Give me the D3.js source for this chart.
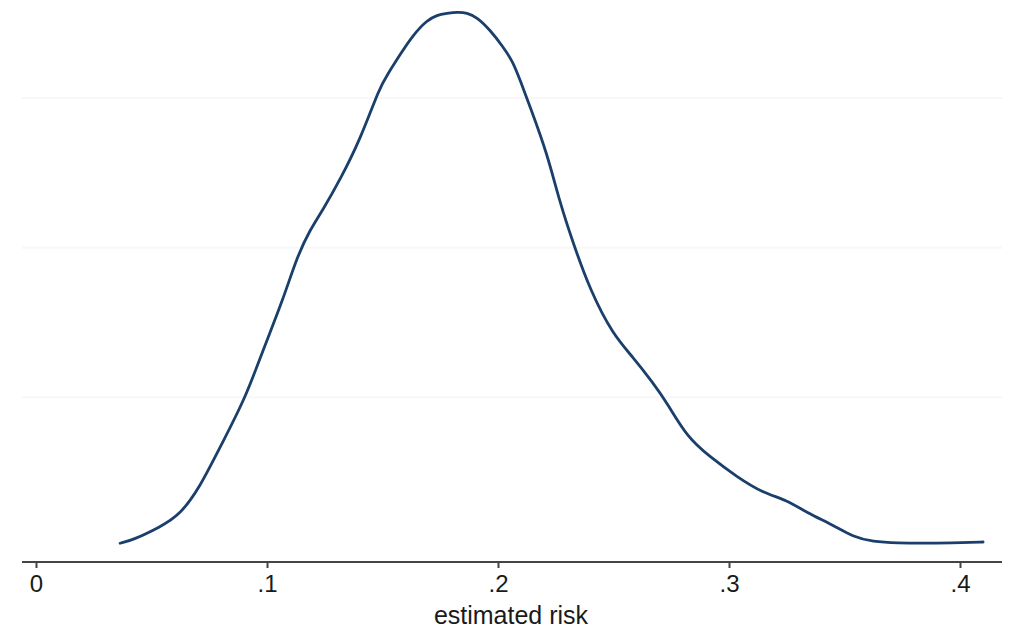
<!DOCTYPE html>
<html>
<head>
<meta charset="utf-8">
<script src="https://cdn.jsdelivr.net/npm/d3@7/dist/d3.min.js"></script>
<style>
  html, body { margin: 0; padding: 0; background: #ffffff; }
  svg { display: block; }
</style>
</head>
<body>
<svg id="chart" width="1013" height="631"></svg>
<script>
// Kernel density estimate of estimated risk
const riskValues = [0.0364, 0.0420, 0.0537, 0.0623, 0.0710, 0.0797, 0.0905, 0.0983, 0.1069, 0.1130,
  0.1186, 0.1242, 0.1316, 0.1403, 0.1489, 0.1519, 0.1576, 0.1632, 0.1693, 0.1736,
  0.1779, 0.1823, 0.1866, 0.1909, 0.1965, 0.2022, 0.2065, 0.2095, 0.2139, 0.2212,
  0.2268, 0.2325, 0.2398, 0.2498, 0.2584, 0.2671, 0.2732, 0.2818, 0.2918, 0.3035,
  0.3147, 0.3251, 0.3338, 0.3450, 0.3537, 0.3623, 0.3727, 0.3870, 0.4013, 0.4100];
const densityValues = [0.050, 0.094, 0.267, 0.428, 0.802, 1.337, 1.979, 2.634, 3.302, 3.877,
  4.238, 4.505, 4.906, 5.441, 6.150, 6.300, 6.580, 6.840, 7.040, 7.110,
  7.130, 7.150, 7.140, 7.080, 6.912, 6.684, 6.484, 6.243, 5.882, 5.267,
  4.599, 4.064, 3.436, 2.834, 2.540, 2.193, 1.925, 1.471, 1.203, 0.936,
  0.722, 0.628, 0.455, 0.294, 0.134, 0.070, 0.053, 0.050, 0.060, 0.067];
const xTickValues = [0, 0.1, 0.2, 0.3, 0.4];
const xTickLabels = ["0", ".1", ".2", ".3", ".4"];
const yGridValues = [2, 4, 6];
const xTitle = "estimated risk";

const svg = d3.select("#chart");

const x = d3.scaleLinear().domain([0, 0.4]).range([36, 960]);
const y = d3.scaleLinear().domain([0, 6]).range([547, 98]);

// faint horizontal gridlines
svg.append("g")
  .selectAll("line")
  .data(yGridValues)
  .join("line")
  .attr("x1", 22).attr("x2", 1002)
  .attr("y1", d => y(d)).attr("y2", d => y(d))
  .attr("stroke", "#f7f7f7")
  .attr("stroke-width", 2);

// density curve
const points = riskValues.map((v, i) => [v, densityValues[i]]);
const line = d3.line()
  .x(d => x(d[0]))
  .y(d => y(d[1]))
  .curve(d3.curveBasis);

svg.append("path")
  .datum(points)
  .attr("d", line)
  .attr("fill", "none")
  .attr("stroke", "#1a3f6b")
  .attr("stroke-width", 2.8)
  .attr("stroke-linejoin", "round")
  .attr("stroke-linecap", "round");

// x axis
const axisY = 562;
const xAxis = d3.axisBottom(x)
  .tickValues(xTickValues)
  .tickFormat((d, i) => xTickLabels[i])
  .tickSize(6)
  .tickSizeOuter(0)
  .tickPadding(7);

const gx = svg.append("g")
  .attr("transform", `translate(0,${axisY})`)
  .call(xAxis);

gx.select(".domain").remove();
gx.append("line")
  .attr("x1", 22).attr("x2", 1002)
  .attr("y1", 0).attr("y2", 0)
  .attr("stroke", "#444444")
  .attr("stroke-width", 2.2);

gx.selectAll(".tick line")
  .attr("stroke", "#444444")
  .attr("stroke-width", 2);

gx.selectAll(".tick text")
  .attr("fill", "#1a1a1a")
  .attr("font-family", "'Liberation Sans', Arial, sans-serif")
  .attr("font-size", 24);

// axis title
svg.append("text")
  .attr("x", 511)
  .attr("y", 624)
  .attr("text-anchor", "middle")
  .attr("fill", "#1a1a1a")
  .attr("font-family", "'Liberation Sans', Arial, sans-serif")
  .attr("font-size", 25)
  .text(xTitle);
</script>
</body>
</html>
